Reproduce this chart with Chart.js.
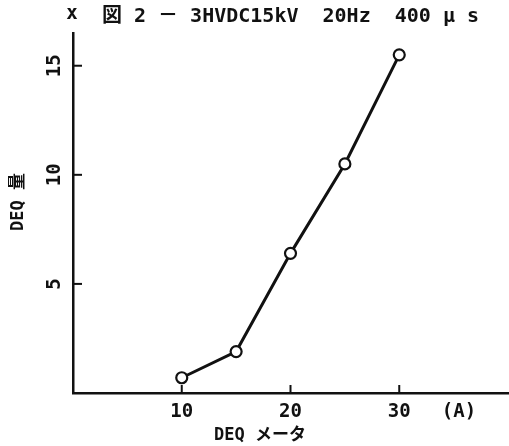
<!DOCTYPE html>
<html>
<head>
<meta charset="utf-8">
<script src="https://cdn.jsdelivr.net/npm/chart.js@4"></script>
<style>
    body { margin: 0; background: #fff; }
    #wrap { width: 509px; height: 446px; }
</style>
</head>
<body>
<div id="wrap"><canvas id="myChart" width="509" height="446"></canvas></div>
<script>
const meterCurrent = [10, 15, 20, 25, 30];
const deqAmount = [0.7, 1.9, 6.4, 10.5, 15.5];
const xTicks = [10, 20, 30];
const yTicks = [5, 10, 15];
const chartTitle = "図 2 － 3HVDC15kV  20Hz  400 μ s";
const xTitle = "DEQ メータ";
const yTitle = "DEQ 量";
const xUnit = "(A)";

const ink = "#111";
const monoFont = "'DejaVu Sans Mono', 'Noto Sans CJK JP', monospace";

// inward ticks, rotated y labels and axis titles
const extras = {
    id: "extras",
    afterDraw(chart) {
        const ctx = chart.ctx;
        const x = chart.scales.x;
        const y = chart.scales.y;
        const area = chart.chartArea;
        ctx.save();
        ctx.strokeStyle = ink;
        ctx.lineWidth = 2;
        xTicks.forEach((v) => {
            const px = x.getPixelForValue(v);
            ctx.beginPath();
            ctx.moveTo(px, area.bottom);
            ctx.lineTo(px, area.bottom - 8);
            ctx.stroke();
        });
        yTicks.forEach((v) => {
            const py = y.getPixelForValue(v);
            ctx.beginPath();
            ctx.moveTo(area.left, py);
            ctx.lineTo(area.left + 9, py);
            ctx.stroke();
        });

        ctx.fillStyle = ink;
        ctx.font = "bold 19px " + monoFont;
        ctx.textAlign = "center";
        ctx.textBaseline = "middle";
        yTicks.forEach((v) => {
            const py = y.getPixelForValue(v);
            ctx.save();
            ctx.translate(55, py);
            ctx.rotate(-Math.PI / 2);
            ctx.fillText(String(v), 0, 0);
            ctx.restore();
        });

        ctx.font = "bold 17px " + monoFont;
        ctx.save();
        ctx.translate(19, 202);
        ctx.rotate(-Math.PI / 2);
        ctx.fillText(yTitle, 0, 0);
        ctx.restore();

        ctx.fillText(xTitle, 260, 436);

        ctx.font = "bold 19px " + monoFont;
        ctx.fillText(xUnit, 459, 412);
        ctx.fillText("x", 72, 14);
        ctx.restore();
    },
};

const ctx = document.getElementById("myChart").getContext("2d");
const myChart = new Chart(ctx, {
    type: "line",
    data: {
        datasets: [
            {
                label: "DEQ",
                data: meterCurrent.map((v, i) => ({ x: v, y: deqAmount[i] })),
                borderColor: ink,
                borderWidth: 3,
                pointRadius: 5.5,
                pointBorderWidth: 2.2,
                pointBackgroundColor: "#fff",
                pointBorderColor: ink,
                tension: 0,
            },
        ],
    },
    options: {
        responsive: false,
        animation: false,
        layout: { autoPadding: false, padding: { right: 1 } },
        plugins: {
            legend: { display: false },
            tooltip: { enabled: false },
            title: {
                display: true,
                text: chartTitle,
                fullSize: false,
                color: ink,
                font: { family: monoFont, size: 20, weight: "bold", lineHeight: 1.1 },
                padding: { top: 6, bottom: 5 },
            },
        },
        scales: {
            x: {
                type: "linear",
                min: 0,
                max: 40,
                afterBuildTicks: (axis) => {
                    axis.ticks = xTicks.map((v) => ({ value: v }));
                },
                afterFit: (scale) => {
                    scale.height = 53;
                },
                grid: { display: false, drawTicks: false },
                border: { display: true, color: ink, width: 2.5 },
                ticks: {
                    color: ink,
                    padding: 8,
                    maxRotation: 0,
                    font: { family: monoFont, size: 19, weight: "bold" },
                },
            },
            y: {
                type: "linear",
                min: 0,
                max: 16.5,
                afterBuildTicks: (axis) => {
                    axis.ticks = yTicks.map((v) => ({ value: v }));
                },
                afterFit: (scale) => {
                    scale.width = 73;
                },
                grid: { display: false, drawTicks: false },
                border: { display: true, color: ink, width: 2.5 },
                ticks: { display: false },
            },
        },
    },
    plugins: [extras],
});
</script>
</body>
</html>
